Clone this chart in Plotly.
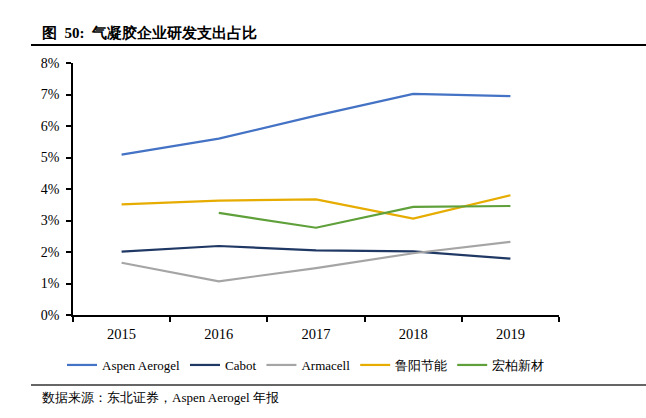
import plotly.graph_objects as go

years = ["2015", "2016", "2017", "2018", "2019"]
aspen = [5.09, 5.60, 6.33, 7.02, 6.95]
cabot = [2.01, 2.19, 2.05, 2.02, 1.79]
armacell = [1.66, 1.07, 1.49, 1.96, 2.32]
luyang = [3.51, 3.63, 3.67, 3.06, 3.80]
hongbai = [None, 3.24, 2.77, 3.43, 3.46]

series_names = ["Aspen Aerogel", "Cabot", "Armacell", "鲁阳节能", "宏柏新材"]
series_vals = [aspen, cabot, armacell, luyang, hongbai]
colors = ["#4472C4", "#203864", "#A5A5A5", "#E6AC00", "#5FA03A"]

y_ticks = [0, 1, 2, 3, 4, 5, 6, 7, 8]
y_ticktext = [f"{v}%" for v in y_ticks]

title_text = "图  50:  气凝胶企业研发支出占比"
source_text = "数据来源：东北证券，Aspen Aerogel 年报"

FONT = "Liberation Serif"

fig = go.Figure()
for name, vals, c in zip(series_names, series_vals, colors):
    fig.add_trace(go.Scatter(x=years, y=vals, name=name, mode="lines",
                             line=dict(color=c, width=2.2), connectgaps=False))

W, H = 646, 418
L, R, T, B = 73, 87, 63, 103
pw, ph = W - L - R, H - T - B

def px(xp):
    return (xp - L) / pw

def py(yp):
    return (H - B - yp) / ph

fig.update_layout(
    width=W, height=H,
    margin=dict(l=L, r=R, t=T, b=B),
    paper_bgcolor="white", plot_bgcolor="white",
    font=dict(family=FONT, size=13, color="#000000"),
    showlegend=True,
    legend=dict(orientation="h", x=px(62), y=py(350), xanchor="left", yanchor="top",
                font=dict(family=FONT, size=13, color="#000000"), itemwidth=30,
                tracegroupgap=0, bgcolor="rgba(0,0,0,0)"),
    xaxis=dict(type="category", range=[-0.5, 4.5], showgrid=False,
               showline=True, linecolor="#000000", linewidth=1.5,
               ticks="outside", tickson="boundaries", ticklen=5, tickcolor="#000000",
               tickwidth=1.5, tickfont=dict(family=FONT, size=14.5), zeroline=False,
               ticklabelstandoff=5),
    yaxis=dict(range=[0, 8], tickmode="array", tickvals=y_ticks, ticktext=y_ticktext,
               showgrid=False,
               showline=True, linecolor="#000000", linewidth=1.5,
               ticks="outside", ticklen=5, tickcolor="#000000", tickwidth=1.5,
               tickfont=dict(family=FONT, size=14), zeroline=False,
               ticklabelstandoff=4),
    annotations=[
        dict(text="<b>" + title_text + "</b>", xref="paper", yref="paper",
             x=px(40), y=py(33), xanchor="left", yanchor="middle", showarrow=False,
             font=dict(family=FONT, size=15, color="#000000")),
        dict(text=source_text, xref="paper", yref="paper",
             x=px(40), y=py(397), xanchor="left", yanchor="middle", showarrow=False,
             font=dict(family=FONT, size=13, color="#000000")),
    ],
    shapes=[
        dict(type="line", xref="paper", yref="paper", x0=px(31), x1=px(646),
             y0=py(45), y1=py(45), line=dict(color="#000000", width=2)),
        dict(type="line", xref="paper", yref="paper", x0=px(31), x1=px(646),
             y0=py(385), y1=py(385), line=dict(color="#333333", width=1.5)),
    ],
)

fig.write_html("out.html", config={"displayModeBar": False},
               post_script="document.body.style.margin='0';")
